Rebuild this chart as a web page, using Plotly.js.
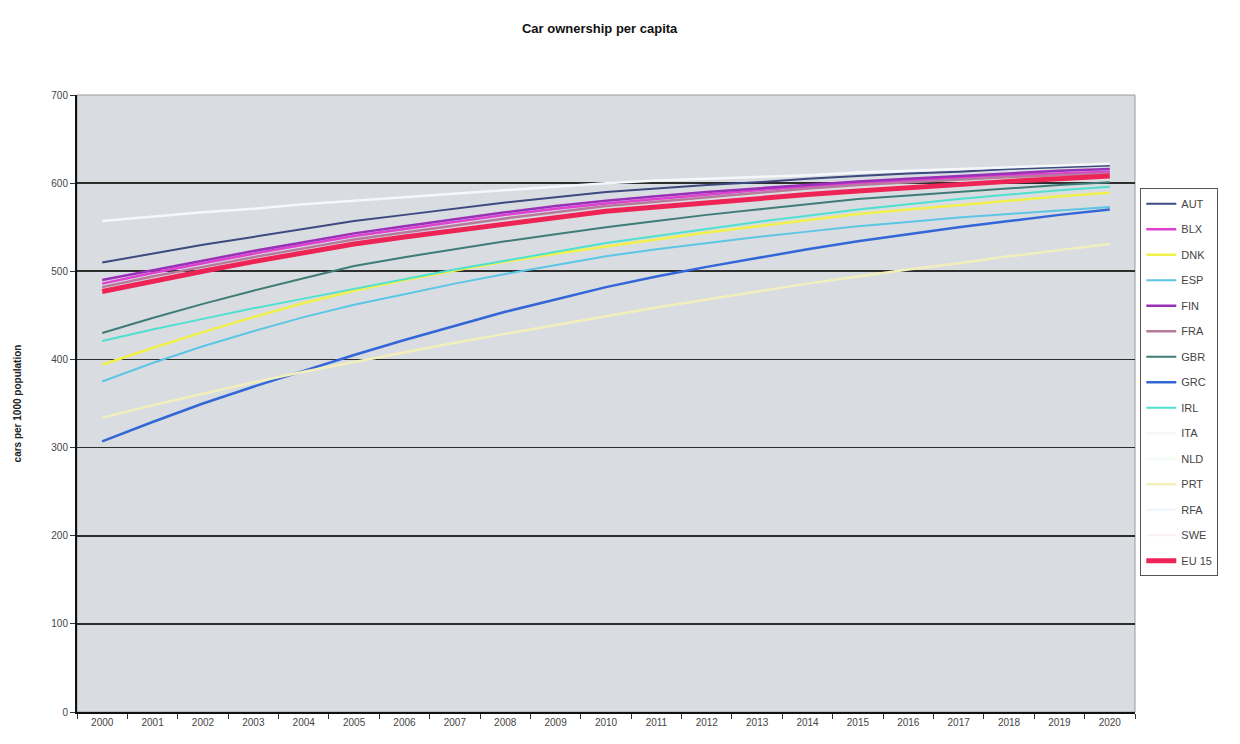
<!DOCTYPE html>
<html>
<head>
<meta charset="utf-8">
<script src="https://cdn.plot.ly/plotly-3.0.1.min.js"></script>
<style>
html,body{margin:0;padding:0;background:#fff;}
#chart{width:1240px;height:744px;}
</style>
</head>
<body>
<div id="chart"></div>
<script>
const years = ["2000","2001","2002","2003","2004","2005","2006","2007","2008","2009","2010",
               "2011","2012","2013","2014","2015","2016","2017","2018","2019","2020"];

const AUT = [510,520,530,539,548,557,564,571,578,584,590,594,598,601,605,608,611,613,616,618,620];
const BLX = [486,498,509,520,530,540,548,556,564,571,577,582,587,592,596,600,603,606,609,611,613];
const DNK = [394,413,431,448,464,478,490,501,511,520,528,536,544,551,558,565,570,575,580,585,589];
const ESP = [375,396,415,432,448,462,474,486,497,507,517,525,532,539,545,551,556,561,565,569,573];
const FIN = [490,501,512,523,533,543,551,559,567,574,580,585,590,594,598,602,605,608,611,614,616];
const FRA = [482,494,505,516,526,536,544,552,560,567,574,579,584,589,594,598,601,604,607,609,611];
const GBR = [430,447,463,478,492,506,516,525,534,542,550,557,564,570,576,582,586,590,594,598,601];
const GRC = [307,329,350,369,387,405,422,438,454,468,482,494,505,515,525,534,542,550,557,564,570];
const IRL = [421,434,446,458,469,480,491,502,512,522,532,540,548,556,563,570,576,582,587,592,596];
const ITA = [557,562,567,571,576,580,584,588,592,596,600,603,605,607,609,612,614,616,618,620,622];
const NLD = [null,null,null,null,null,null,null,null,null,null,null,null,null,null,null,null,null,null,null,null,null];
const PRT = [334,348,361,374,386,397,408,419,429,439,449,459,468,477,486,494,502,509,517,524,531];
const RFA = [null,null,null,null,null,null,null,null,null,null,null,null,null,null,null,null,null,null,null,null,null];
const SWE = [null,null,null,null,null,null,null,null,null,null,null,null,null,null,null,null,null,null,null,null,null];
const EU15 = [477,489,500,511,521,531,539,546,554,561,568,573,578,583,587,591,595,599,602,605,608];

const seriesNames = ["AUT","BLX","DNK","ESP","FIN","FRA","GBR","GRC","IRL","ITA","NLD","PRT","RFA","SWE","EU 15"];
const seriesValues = [AUT,BLX,DNK,ESP,FIN,FRA,GBR,GRC,IRL,ITA,NLD,PRT,RFA,SWE,EU15];
const seriesColors = ["#3c4a80","#e040d0","#f2f04a","#5cc6e4","#9a2fb8","#b87a9c","#3f7c78","#3366d6","#4fe0cf",
                      "#f4f8fb","#f2faf2","#f3efbd","#eef4fb","#fbf2f5","#ee2457"];
const seriesWidths = [2,2.5,2.5,2,2.5,2.5,2,2.5,2,2.5,2,2.5,2,2,5];

const traces = seriesNames.map((n,i) => ({
  type: "scatter",
  mode: "lines",
  name: n,
  legendgroup: n,
  x: years,
  y: seriesValues[i],
  line: {color: seriesColors[i], width: seriesWidths[i]},
  connectgaps: false,
  hoverinfo: "x+y+name"
}));

const layout = {
  width: 1240, height: 744,
  paper_bgcolor: "#ffffff",
  plot_bgcolor: "#d9dce1",
  margin: {l: 77, r: 105, t: 95, b: 32},
  font: {family: "Liberation Sans, Arial, sans-serif", color: "#333"},
  title: {
    text: "Car ownership per capita",
    font: {family: "Liberation Sans, Arial, sans-serif", size: 13, color: "#111", weight: "bold"},
    x: 0.494, xanchor: "center", y: 0.962, yanchor: "middle", xref: "paper", yref: "container"
  },
  showlegend: true,
  legend: {
    x: 1.005, xanchor: "left", y: 0.849, yanchor: "top",
    bgcolor: "#ffffff", bordercolor: "#555", borderwidth: 1,
    font: {size: 11, color: "#444"},
    tracegroupgap: 6.5, traceorder: "grouped",
    itemwidth: 30
  },
  xaxis: {
    type: "category",
    range: [-0.5, 20.5],
    showgrid: false,
    showline: true, linecolor: "#111", linewidth: 2,
    ticks: "outside", tickson: "boundaries", ticklen: 5, tickcolor: "#333",
    tickfont: {size: 10, color: "#444"},
    zeroline: false, fixedrange: true
  },
  yaxis: {
    range: [0, 700], dtick: 100, tick0: 0,
    showgrid: true, gridcolor: "#2e2e2e", gridwidth: 1.7,
    showline: true, linecolor: "#111", linewidth: 2,
    ticks: "outside", ticklen: 5, tickcolor: "#333",
    tickfont: {size: 10, color: "#444"},
    zeroline: false, fixedrange: true,
    title: {text: "cars per 1000 population", font: {size: 10, color: "#222", weight: "bold"}, standoff: 28}
  },
  shapes: [{
    type: "rect", xref: "paper", yref: "paper", x0: 0, x1: 1, y0: 0, y1: 1,
    line: {color: "#9a9a9a", width: 1}, layer: "below"
  }]
};

Plotly.newPlot("chart", traces, layout, {displayModeBar: false, staticPlot: true});
</script>
</body>
</html>
